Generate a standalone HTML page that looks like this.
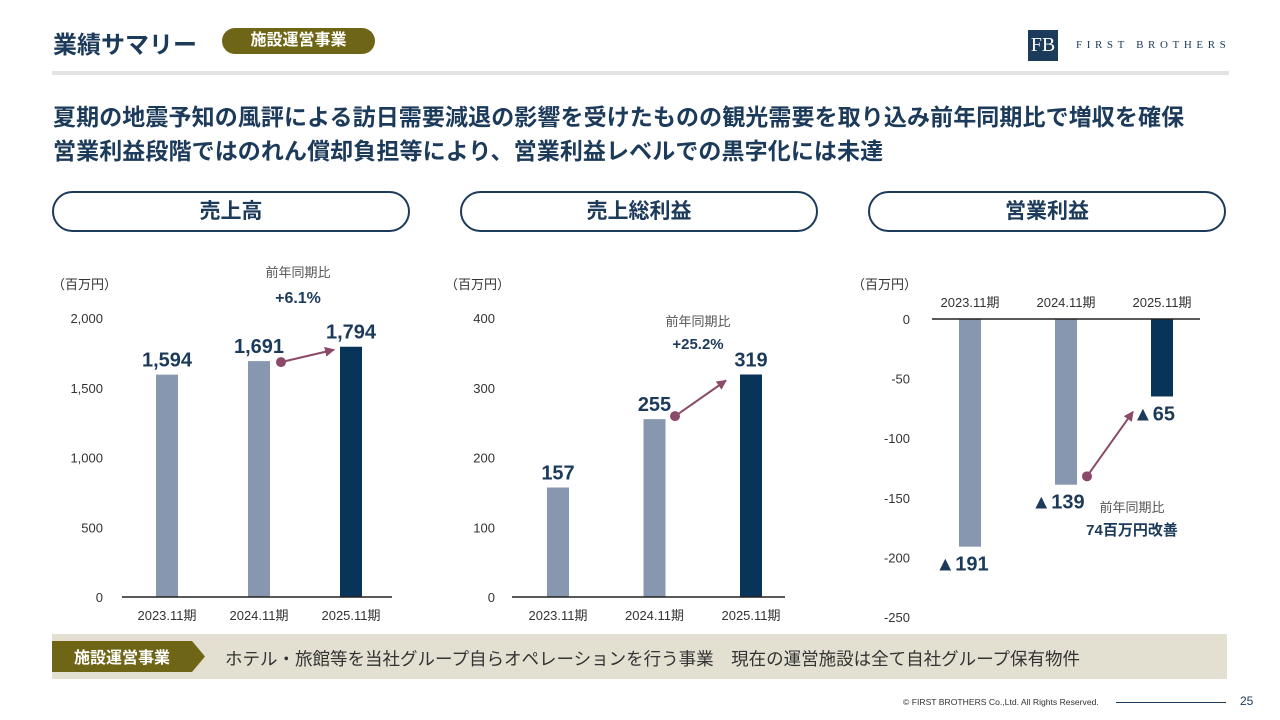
<!DOCTYPE html>
<html><head><meta charset="utf-8">
<style>
body{margin:0;width:1280px;height:720px;background:#fff;overflow:hidden;font-family:"Liberation Sans","Noto Sans CJK JP",sans-serif;color:#1c3a5a;position:relative}
.abs{position:absolute}
.pill{position:absolute;top:191px;width:358px;height:41px;border:2px solid #1c3a5a;border-radius:22px;box-sizing:border-box;text-align:center;line-height:37px;font-size:21px;font-weight:bold;color:#1c3a5a}
svg text{font-family:"Liberation Sans","Noto Sans CJK JP",sans-serif}
</style></head><body>
<div class="abs" style="left:53px;top:25px;font-size:24px;font-weight:bold;color:#1c3a5a">業績サマリー</div>
<div class="abs" style="left:222px;top:28px;width:153px;height:26px;background:#6f6516;border-radius:13px;color:#fff;font-size:16px;font-weight:bold;text-align:center;line-height:26px">施設運営事業</div>
<div class="abs" style="left:1028px;top:30px;width:30px;height:31px;background:#1c3a5a;color:#fff;font-family:'Liberation Serif',serif;font-size:20px;text-align:center;line-height:31px">FB</div>
<div class="abs" style="left:1076px;top:39px;font-family:'Liberation Serif',serif;font-size:11px;letter-spacing:4.6px;color:#1c3a5a">FIRST BROTHERS</div>
<div class="abs" style="left:52px;top:71px;width:1177px;height:4px;background:#e3e3e3"></div>
<div class="abs" style="left:53px;top:100px;font-size:23px;letter-spacing:0.1px;font-weight:bold;line-height:34px;color:#1c3a5a;white-space:nowrap">夏期の地震予知の風評による訪日需要減退の影響を受けたものの観光需要を取り込み前年同期比で増収を確保<br>営業利益段階ではのれん償却負担等により、営業利益レベルでの黒字化には未達</div>
<div class="pill" style="left:52px">売上高</div>
<div class="pill" style="left:460px">売上総利益</div>
<div class="pill" style="left:868px">営業利益</div>

<svg id="charts" class="abs" style="left:0;top:0" width="1280" height="720">
<defs><marker id="ah" viewBox="0 0 10 10" refX="9" refY="5" markerWidth="5" markerHeight="5" orient="auto"><path d="M0,0L10,5L0,10z" fill="#8b4a68"/></marker></defs>
</svg>

<div class="abs" style="left:52px;top:634px;width:1175px;height:45px;background:#e3e0d2"></div>
<svg class="abs" style="left:52px;top:641px" width="155" height="31"><polygon points="0,0 140,0 153,15.5 140,31 0,31" fill="#6f6516"/><text x="70" y="22" text-anchor="middle" font-size="16" font-weight="bold" fill="#fff" style="font-family:'Liberation Sans','Noto Sans CJK JP',sans-serif">施設運営事業</text></svg>
<div class="abs" style="left:225px;top:646px;font-size:17.5px;color:#333;white-space:nowrap">ホテル・旅館等を当社グループ自らオペレーションを行う事業　現在の運営施設は全て自社グループ保有物件</div>
<div class="abs" style="left:903px;top:697px;font-size:8.6px;color:#333;white-space:nowrap">© FIRST BROTHERS Co.,Ltd. All Rights Reserved.</div>
<div class="abs" style="left:1116px;top:702px;width:110px;height:1px;background:#1c3a5a"></div>
<div class="abs" style="left:1240px;top:694px;font-size:12px;color:#1c3a5a">25</div>

<script>
const categories = ["2023.11期","2024.11期","2025.11期"];
const salesValues = [1594,1691,1794];
const grossValues = [157,255,319];
const opValues = [-191,-139,-65];
const salesTicks = [0,500,1000,1500,2000];
const salesTickLabels = ["0","500","1,000","1,500","2,000"];
const grossTicks = [0,100,200,300,400];
const opTicks = [0,-50,-100,-150,-200,-250];
const salesLabels = ["1,594","1,691","1,794"];
const grossLabels = ["157","255","319"];
const opLabels = ["▲191","▲139","▲65"];

const svg = document.getElementById('charts');
const NS = 'http://www.w3.org/2000/svg';
function mk(tag, attrs, text){const e=document.createElementNS(NS,tag);for(const k in attrs)e.setAttribute(k,attrs[k]);if(text!==undefined)e.textContent=text;svg.appendChild(e);return e;}
const LIGHT='#8797b0', DARK='#08345a', ARROW='#8b4a68';

function chart(cfg){
  const y = v => cfg.y0 + (v - cfg.vmin) / (cfg.vmax - cfg.vmin) * (cfg.y1 - cfg.y0);
  const x = i => cfg.xStart + i * cfg.step;
  let t = mk('text',{x:cfg.unitX,y:289,'font-size':13,fill:'#333'},'（百万円）');
  
  
  cfg.ticks.forEach((v,i)=>{
    const e = mk('text',{x:cfg.tickX,y:y(v)+5,'text-anchor':'end','font-size':13,fill:'#333'},cfg.tickLabels[i]);
    
    
  });
  const zero = y(0);
  cfg.values.forEach((v,i)=>{
    const top = Math.min(y(v), zero), h = Math.abs(y(v)-zero);
    const b = mk('rect',{x:x(i)-11,y:top,width:22,height:h,fill:i===2?DARK:LIGHT});
    
    
    const neg = v<0;
    const ly = neg ? y(v)+24 : y(v)-8;
    const lx = neg ? x(i)-8 : x(i);
    const l = mk('text',{x:lx,y:ly,'text-anchor':'middle','font-size':20,'font-weight':'bold',fill:'#1c3a5a'},cfg.labels[i]);
    
    
    const c = mk('text',{x:x(i),y:cfg.catY,'text-anchor':'middle','font-size':13,fill:'#333'},categories[i]);
    
    
  });
  const ax = mk('line',{x1:cfg.axisX1,x2:cfg.axisX2,y1:zero,y2:zero,stroke:'#222','stroke-width':1.5});
  
  
  return {x,y};
}

// Sales
let s = chart({id:'sales',values:salesValues,labels:salesLabels,ticks:salesTicks,tickLabels:salesTickLabels,vmin:0,vmax:2000,y0:597,y1:318,xStart:167,step:92,tickX:103,unitX:52,catY:620,axisX1:122,axisX2:392});
let a = mk('line',{x1:281,y1:s.y(salesValues[1])+1,x2:334,y2:s.y(salesValues[2])+3,stroke:ARROW,'stroke-width':2,'marker-end':'url(#ah)'});


let d = mk('circle',{cx:281,cy:s.y(salesValues[1])+1,r:5,fill:ARROW});


let n = mk('text',{x:298,y:277,'text-anchor':'middle','font-size':13,fill:'#555'},'前年同期比');


n = mk('text',{x:298,y:303,'text-anchor':'middle','font-size':16,'font-weight':'bold',fill:'#1c3a5a'},'+6.1%');



// Gross profit
let g = chart({id:'gross',values:grossValues,labels:grossLabels,ticks:grossTicks,tickLabels:grossTicks.map(String),vmin:0,vmax:400,y0:597,y1:318,xStart:558,step:96.5,tickX:495,unitX:445,catY:620,axisX1:512,axisX2:785});
a = mk('line',{x1:675,y1:g.y(grossValues[1])-3,x2:726,y2:g.y(grossValues[2])+6,stroke:ARROW,'stroke-width':2,'marker-end':'url(#ah)'});


d = mk('circle',{cx:675,cy:g.y(grossValues[1])-3,r:5,fill:ARROW});


n = mk('text',{x:698,y:326,'text-anchor':'middle','font-size':13,fill:'#555'},'前年同期比');


n = mk('text',{x:698,y:349,'text-anchor':'middle','font-size':15,'font-weight':'bold',fill:'#1c3a5a'},'+25.2%');



// Operating profit
let o = chart({id:'op',values:opValues,labels:opLabels,ticks:opTicks,tickLabels:opTicks.map(String),vmin:0,vmax:-250,y0:319,y1:617,xStart:970,step:96,tickX:910,unitX:852,catY:307,axisX1:932,axisX2:1200});
a = mk('line',{x1:1087,y1:o.y(-132),x2:1133,y2:o.y(-66)+14,stroke:ARROW,'stroke-width':2,'marker-end':'url(#ah)'});


d = mk('circle',{cx:1087,cy:o.y(-132),r:5,fill:ARROW});


n = mk('text',{x:1132,y:512,'text-anchor':'middle','font-size':13,fill:'#555'},'前年同期比');


n = mk('text',{x:1132,y:535,'text-anchor':'middle','font-size':15,'font-weight':'bold',fill:'#1c3a5a'},'74百万円改善');


</script>
</body></html>
